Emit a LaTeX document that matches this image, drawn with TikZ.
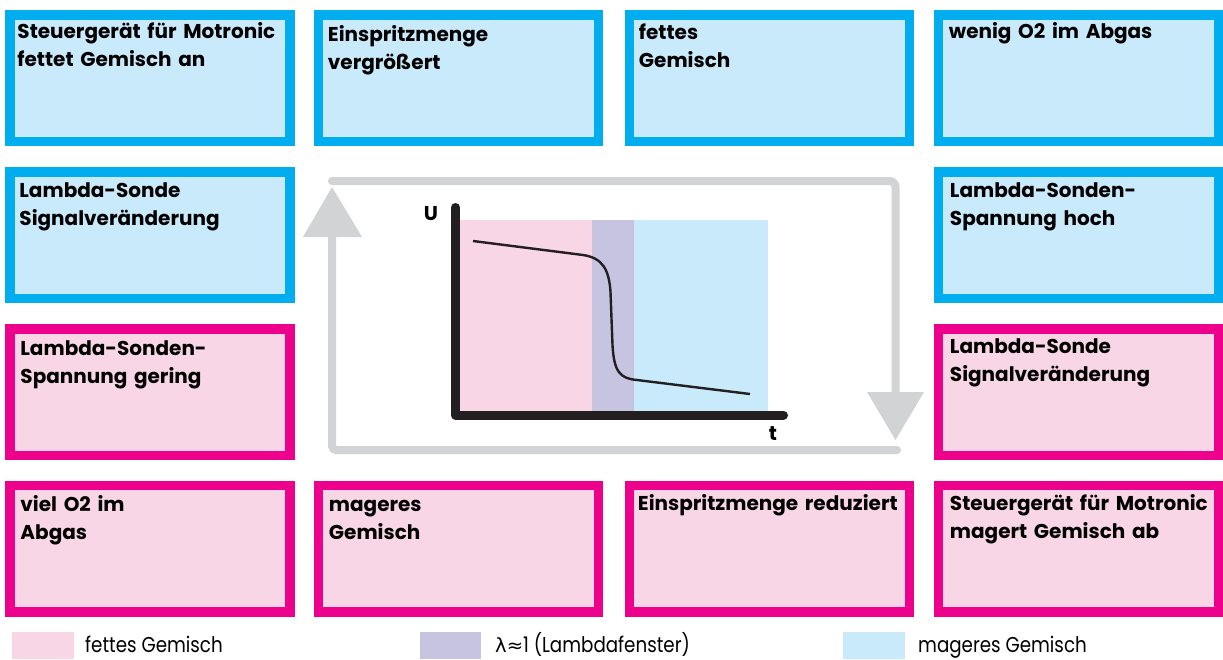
\documentclass[tikz,border=0pt]{standalone}
\usepackage{fontspec}
\setmainfont{Poppins}
\newfontfamily\legendfont[FakeStretch=0.85]{Poppins}
\newfontfamily\symfont{DejaVu Sans}
\definecolor{cyanB}{RGB}{0,174,239}
\definecolor{lightB}{RGB}{200,234,250}
\definecolor{magB}{RGB}{236,0,140}
\definecolor{lightP}{RGB}{249,214,230}
\definecolor{lightV}{RGB}{199,196,226}
\definecolor{loopgray}{RGB}{209,211,212}
\definecolor{axisblack}{RGB}{35,31,32}
\tikzset{
  boxbase/.style={line width=9.5pt, outer sep=4.75pt, minimum width=280pt, minimum height=126.5pt, inner sep=0pt},
  bluebox/.style={boxbase, draw=cyanB, fill=lightB},
  pinkbox/.style={boxbase, draw=magB, fill=lightP},
  boxtext/.style={anchor=base west, align=left, text width=268pt, inner sep=0pt, font=\bfseries\fontsize{20}{28}\selectfont},
  looparrow/.style={draw=loopgray, line width=8pt},
  loophead/.style={fill=loopgray},
  legendtext/.style={anchor=base west, inner sep=0pt, font=\legendfont\fontsize{21.5}{24}\selectfont},
  axislabel/.style={inner sep=0pt, font=\bfseries\fontsize{20}{24}\selectfont},
}
\begin{document}
\begin{tikzpicture}[x=1pt,y=-1pt]
\useasboundingbox (0,0) rectangle (1223,659);
% boxes
\node[bluebox] (b1) at (150,78) {};
\node[bluebox] (b2) at (458.5,78) {};
\node[bluebox] (b3) at (769.5,78) {};
\node[bluebox] (b4) at (1078.5,78) {};
\node[bluebox] (b5) at (150,235) {};
\node[bluebox] (b6) at (1078.5,235) {};
\node[pinkbox] (b7) at (150,392) {};
\node[pinkbox] (b8) at (1078.5,392) {};
\node[pinkbox] (b9) at (150,548.5) {};
\node[pinkbox] (b10) at (458.5,548.5) {};
\node[pinkbox] (b11) at (769.5,548.5) {};
\node[pinkbox] (b12) at (1078.5,548.5) {};
% box texts
\node[boxtext] (t1) at ([shift={(12,28)}]b1.north west) {Steuergerät für Motronic\\fettet Gemisch an};
\node[boxtext] (t2) at ([shift={(14,31)}]b2.north west) {Einspritzmenge\\vergrößert};
\node[boxtext] (t3) at ([shift={(14,29)}]b3.north west) {fettes\\Gemisch};
\node[boxtext] (t4) at ([shift={(15,28)}]b4.north west) {wenig O2 im Abgas};
\node[boxtext] (t5) at ([shift={(14,30)}]b5.north west) {Lambda-Sonde\\Signalveränderung};
\node[boxtext] (t6) at ([shift={(16,30)}]b6.north west) {Lambda-Sonden-\\Spannung hoch};
\node[boxtext] (t7) at ([shift={(15,31)}]b7.north west) {Lambda-Sonden-\\Spannung gering};
\node[boxtext] (t8) at ([shift={(16,29)}]b8.north west) {Lambda-Sonde\\Signalveränderung};
\node[boxtext] (t9) at ([shift={(15,31)}]b9.north west) {viel O2 im\\Abgas};
\node[boxtext] (t10) at ([shift={(15,31)}]b10.north west) {mageres\\Gemisch};
\node[boxtext] (t11) at ([shift={(13,30)}]b11.north west) {Einspritzmenge reduziert};
\node[boxtext] (t12) at ([shift={(16,30)}]b12.north west) {Steuergerät für Motronic\\magert Gemisch ab};
% loop arrows
\coordinate (la) at (897,450);
\coordinate (lb) at (332,450);
\coordinate (lc) at (332,237);
\coordinate (ld) at (332,187);
\coordinate (ra) at (332,181);
\coordinate (rb) at (895.5,181);
\coordinate (rc) at (895.5,392);
\coordinate (rd) at (895.5,440);
\draw[looparrow, line cap=round, rounded corners=4pt] (la) -- (lb) -- (lc);
\fill[loophead] (303,237) -- (362,237) -- (ld) -- cycle;
\draw[looparrow, line cap=round, rounded corners=6pt] (ra) -- (rb) -- (rc);
\fill[loophead] (867,392) -- (924,392) -- (rd) -- cycle;
% chart background
\fill[lightP] (460,220) rectangle (592,411);
\fill[lightV] (592,220) rectangle (634,411);
\fill[lightB] (634,220) rectangle (768,411);
% axes
\draw[axisblack, line width=9pt, line cap=round, line join=round] (455.5,207.5) -- (455.5,415) -- (783.5,415);
\node[axislabel] (U) at (431,214) {U};
\node[axislabel] (T) at (773,434) {t};
% curve
\draw[axisblack, line width=2.4pt] (473,241) -- (583,255) .. controls (603,258) and (609,270) .. (610.5,292) -- (612.5,345) .. controls (614,372) and (620,378.5) .. (637,380) -- (750,394);
% legend
\fill[lightP] (12,632) rectangle (74,659);
\fill[lightV] (420,632) rectangle (481,659);
\fill[lightB] (843,632) rectangle (905,659);
\node[legendtext] (l1) at (85,652) {fettes Gemisch};
\node[legendtext] (l2) at (495,652) {{\symfont\fontsize{19.5}{24}\selectfont λ≈}1 (Lambdafenster)};
\node[legendtext] (l3) at (918,652) {mageres Gemisch};
\end{tikzpicture}
\end{document}
